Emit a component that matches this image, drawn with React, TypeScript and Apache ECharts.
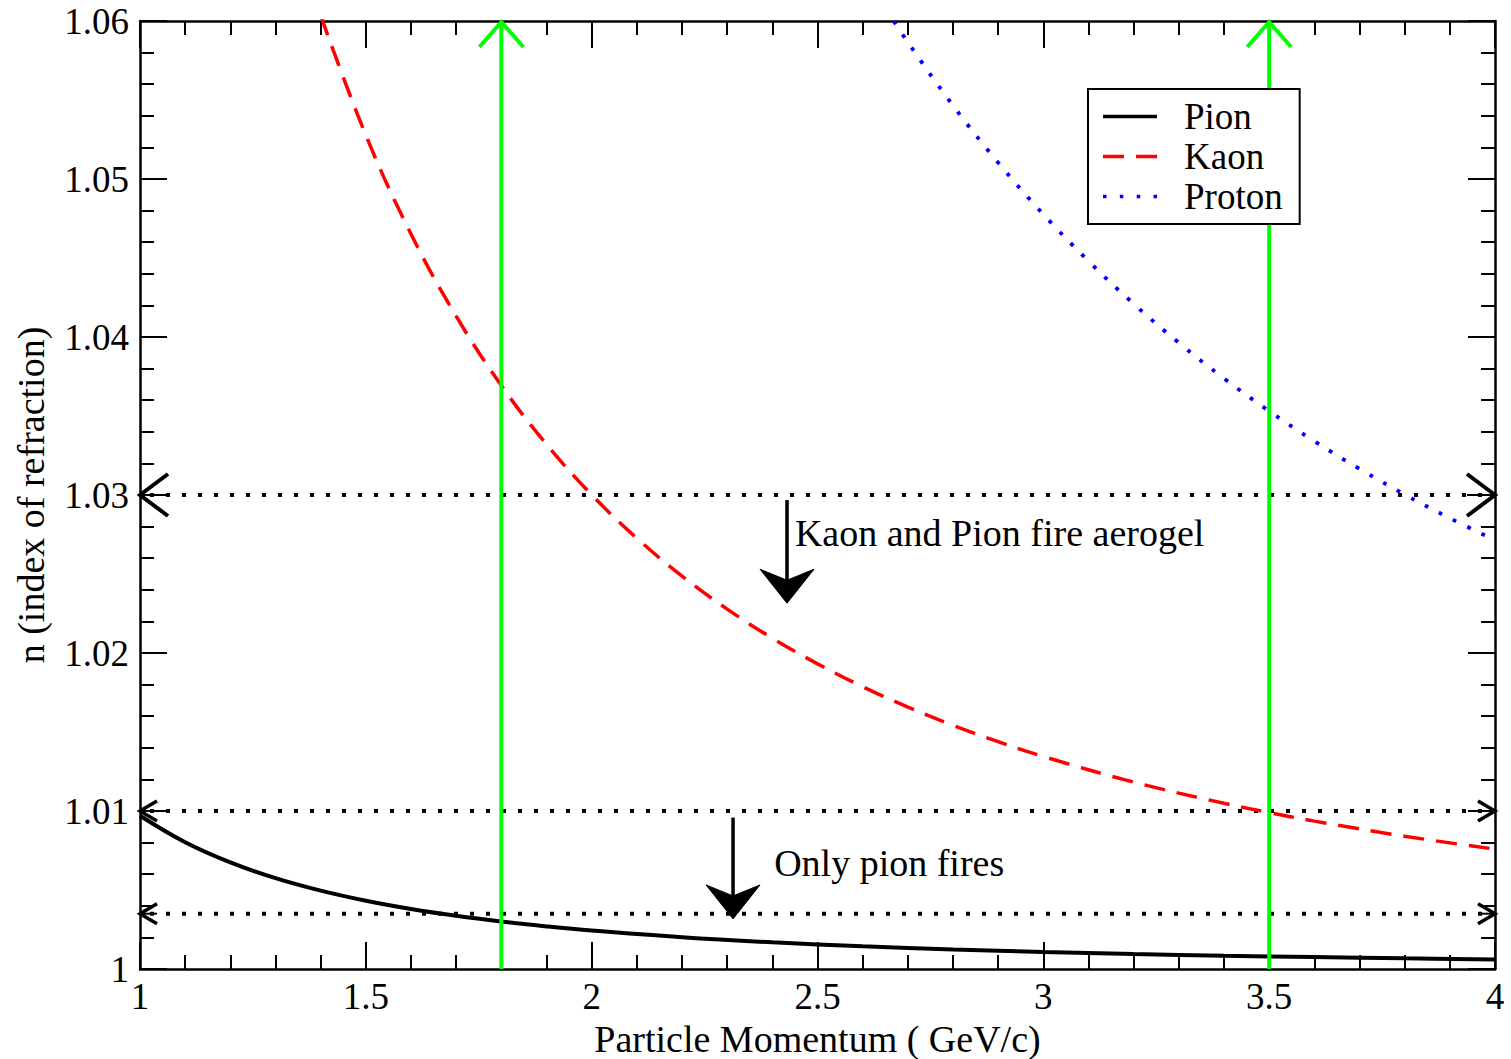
import React, { useEffect, useRef } from 'react';
import * as echarts from 'echarts';

// ---- data ----
const pionX = [1.0, 1.1, 1.2, 1.3, 1.4, 1.5, 1.6, 1.7, 1.8, 1.9, 2.0, 2.2, 2.4, 2.6, 2.8, 3.0, 3.2, 3.4, 3.6, 3.8, 4.0];
const pionY = [1.009697, 1.008021, 1.006744, 1.005749, 1.004959, 1.004321, 1.003799, 1.003366, 1.003003, 1.002696, 1.002433, 1.002011, 1.00169, 1.00144, 1.001242, 1.001082, 1.000951, 1.000842, 1.000752, 1.000675, 1.000609];

const kaonX = [1.4, 1.5, 1.6, 1.7, 1.8, 1.9, 2.0, 2.1, 2.2, 2.3, 2.4, 2.5, 2.6, 2.7, 2.8, 2.9, 3.0, 3.2, 3.4, 3.5, 3.6, 3.8, 4.0];
const kaonY = [1.060357, 1.052772, 1.046524, 1.041316, 1.036932, 1.033208, 1.030017, 1.027263, 1.024871, 1.022779, 1.020939, 1.019313, 1.017868, 1.01658, 1.015426, 1.014388, 1.01345, 1.011832, 1.010488, 1.0099, 1.00936, 1.008404, 1.007588];

const protonX = [2.65, 2.7, 2.8, 2.9, 3.0, 3.1, 3.2, 3.3, 3.4, 3.5, 3.6, 3.7, 3.8, 3.9, 4.0];
const protonY = [1.06083, 1.05866, 1.054652, 1.051037, 1.047768, 1.0448, 1.0421, 1.039635, 1.037379, 1.035309, 1.033406, 1.031652, 1.030032, 1.028533, 1.027143];

const seriesNames = ['Pion', 'Kaon', 'Proton'];

const xMin = 1, xMax = 4, xStep = 0.5;
const yMin = 1, yMax = 1.06, yStep = 0.01;

// thresholds (horizontal dotted lines) and momentum cuts (green lines)
const thresholdLevels = [1.03, 1.01, 1.0035];
const momentumCuts = [1.8, 3.5];

// annotation arrows: x, top y, tip y
const arrowX = [2.4325, 2.313];
const arrowTop = [1.02968, 1.00958];
const arrowTip = [1.02315, 1.00317];

// annotation texts
const noteX = [2.45, 2.404];
const noteY = [1.02759, 1.00672];
const noteText = ['Kaon and Pion fire aerogel', 'Only pion fires'];

const xTitle = 'Particle Momentum ( GeV/c)';
const yTitle = 'n (index of refraction)';

const FONT = '"Liberation Serif", "Times New Roman", serif';

function zip(xs: number[], ys: number[]) {
  return xs.map((x, i) => [x, ys[i]]);
}

export default function App() {
  const ref = useRef<HTMLDivElement>(null);
  useEffect(() => {
    if (!ref.current) return;
    const chart = echarts.init(ref.current, undefined, { renderer: 'svg' });

    const chevronSizes = [[28, 21], [17, 10], [17, 10]];
    const chevronWidths = [4, 3.5, 3.5];

    const legendIcons = [
      'path://M0,0h54v3.5h-54z',
      'path://M0,0h21v3.5h-21zM33,0h21v3.5h-21z',
      'path://M0,0h3.5v3.5h-3.5zM16.8,0h3.5v3.5h-3.5zM33.7,0h3.5v3.5h-3.5zM50.5,0h3.5v3.5h-3.5z',
    ];

    const baseX = {
      type: 'value',
      min: xMin,
      max: xMax,
      interval: xStep,
      axisLine: { onZero: false, lineStyle: { color: '#000', width: 2.5 } },
      axisTick: { inside: true, length: 27, lineStyle: { color: '#000', width: 2 } },
      minorTick: { show: true, splitNumber: 5, length: 14, lineStyle: { color: '#000', width: 2 } },
      splitLine: { show: false },
      minorSplitLine: { show: false },
    };
    const baseY = {
      type: 'value',
      min: yMin,
      max: yMax,
      interval: yStep,
      axisLine: { onZero: false, lineStyle: { color: '#000', width: 2.5 } },
      axisTick: { inside: true, length: 27, lineStyle: { color: '#000', width: 2 } },
      minorTick: { show: true, splitNumber: 5, length: 14, lineStyle: { color: '#000', width: 2 } },
      splitLine: { show: false },
      minorSplitLine: { show: false },
    };

    const option: any = {
      animation: false,
      backgroundColor: '#fff',
      grid: { left: 140, right: 16, top: 21, bottom: 90, containLabel: false, outerBoundsMode: 'none' },
      legend: {
        data: seriesNames.map((n, i) => ({ name: n, icon: legendIcons[i] })),
        orient: 'vertical',
        left: 1088,
        top: 89,
        z: 20,
        borderColor: '#000',
        borderWidth: 2,
        padding: [9, 17, 9, 15],
        itemWidth: 54,
        itemHeight: 3.5,
        itemGap: 3,
        backgroundColor: '#fff',
        textStyle: { fontFamily: FONT, fontSize: 37, color: '#000', lineHeight: 37, padding: [0, 0, 0, 22] },
      },
      xAxis: [
        {
          ...baseX,
          position: 'bottom',
          axisLabel: { fontFamily: FONT, fontSize: 37, color: '#000', margin: 9 },
          name: xTitle,
          nameLocation: 'middle',
          nameGap: 44,
          nameTextStyle: { fontFamily: FONT, fontSize: 38, color: '#000' },
        },
        { ...baseX, position: 'top', axisLabel: { show: false } },
      ],
      yAxis: [
        {
          ...baseY,
          position: 'left',
          axisLabel: { fontFamily: FONT, fontSize: 37, color: '#000', margin: 11 },
          name: yTitle,
          nameLocation: 'middle',
          nameGap: 90,
          nameTextStyle: { fontFamily: FONT, fontSize: 38, color: '#000' },
        },
        { ...baseY, position: 'right', axisLabel: { show: false } },
      ],
      series: [
        {
          type: 'custom',
          name: 'thresholds',
          coordinateSystem: 'cartesian2d',
          clip: false,
          z: 3,
          data: thresholdLevels.map((y) => [y]),
          renderItem: (params: any, api: any) => {
            const y = api.value(0);
            const p0 = api.coord([xMin, y]);
            const p1 = api.coord([xMax, y]);
            const [aw, ah] = chevronSizes[params.dataIndex];
            const lw = chevronWidths[params.dataIndex];
            return {
              type: 'group',
              children: [
                { type: 'line', shape: { x1: p0[0] + 10, y1: p0[1], x2: p1[0] - 10, y2: p1[1] }, style: { stroke: '#000', lineWidth: 4, lineDash: [4, 12] } },
                { type: 'line', shape: { x1: p0[0], y1: p0[1], x2: p0[0] + aw, y2: p0[1] }, style: { stroke: '#000', lineWidth: 2 } },
                { type: 'line', shape: { x1: p1[0] - aw, y1: p1[1], x2: p1[0], y2: p1[1] }, style: { stroke: '#000', lineWidth: 2 } },
                { type: 'polyline', shape: { points: [[p0[0] + aw, p0[1] - ah], [p0[0], p0[1]], [p0[0] + aw, p0[1] + ah]] }, style: { stroke: '#000', lineWidth: lw, fill: 'none' } },
                { type: 'polyline', shape: { points: [[p1[0] - aw, p1[1] - ah], [p1[0], p1[1]], [p1[0] - aw, p1[1] + ah]] }, style: { stroke: '#000', lineWidth: lw, fill: 'none' } },
              ],
            };
          },
        },
        {
          type: 'line',
          name: 'Pion',
          data: zip(pionX, pionY),
          symbol: 'none',
          smooth: 0.4,
          z: 4,
          lineStyle: { color: '#000', width: 4, type: 'solid' },
          itemStyle: { color: '#000' },
        },
        {
          type: 'line',
          name: 'Kaon',
          data: zip(kaonX, kaonY),
          symbol: 'none',
          smooth: 0.4,
          z: 4,
          lineStyle: { color: '#ff0000', width: 3.5, type: [21, 12] },
          itemStyle: { color: '#ff0000' },
        },
        {
          type: 'line',
          name: 'Proton',
          data: zip(protonX, protonY),
          symbol: 'none',
          smooth: 0.4,
          z: 4,
          lineStyle: { color: '#0000ff', width: 3.8, type: [3.8, 12] },
          itemStyle: { color: '#0000ff' },
        },
        {
          type: 'custom',
          name: 'cuts',
          coordinateSystem: 'cartesian2d',
          clip: false,
          z: 5,
          data: momentumCuts.map((x) => [x]),
          renderItem: (params: any, api: any) => {
            const x = api.value(0);
            const top = api.coord([x, yMax]);
            const bot = api.coord([x, yMin]);
            return {
              type: 'group',
              children: [
                { type: 'line', shape: { x1: bot[0], y1: bot[1], x2: top[0], y2: top[1] + 1 }, style: { stroke: '#00ff00', lineWidth: 4 } },
                { type: 'polyline', shape: { points: [[top[0] - 22, top[1] + 26], [top[0], top[1] + 1], [top[0] + 22, top[1] + 26]] }, style: { stroke: '#00ff00', lineWidth: 4, fill: 'none' } },
              ],
            };
          },
        },
        {
          type: 'custom',
          name: 'arrows',
          coordinateSystem: 'cartesian2d',
          clip: false,
          z: 6,
          data: arrowX.map((x, i) => [x, arrowTop[i], arrowTip[i]]),
          renderItem: (params: any, api: any) => {
            const a = api.coord([api.value(0), api.value(1)]);
            const b = api.coord([api.value(0), api.value(2)]);
            const cx = b[0];
            const ty = b[1];
            return {
              type: 'group',
              children: [
                { type: 'line', shape: { x1: a[0], y1: a[1], x2: cx, y2: ty - 20 }, style: { stroke: '#000', lineWidth: 3.5 } },
                { type: 'polygon', shape: { points: [[cx, ty], [cx + 27, ty - 34], [cx, ty - 23], [cx - 27, ty - 34]] }, style: { fill: '#000', stroke: '#000', lineWidth: 1 } },
              ],
            };
          },
        },
        {
          type: 'custom',
          name: 'notes',
          coordinateSystem: 'cartesian2d',
          clip: false,
          z: 7,
          data: noteX.map((x, i) => [x, noteY[i]]),
          renderItem: (params: any, api: any) => {
            const p = api.coord([api.value(0), api.value(1)]);
            return {
              type: 'text',
              x: p[0],
              y: p[1],
              style: {
                text: noteText[params.dataIndex],
                fontFamily: FONT,
                fontSize: 38,
                fill: '#000',
                align: 'left',
                verticalAlign: 'middle',
              },
            };
          },
        },
      ],
    };
    chart.setOption(option);
    return () => chart.dispose();
  }, []);
  return <div ref={ref} style={{ position: 'absolute', left: 0, top: 0, width: 1511, height: 1059 }} />;
}
